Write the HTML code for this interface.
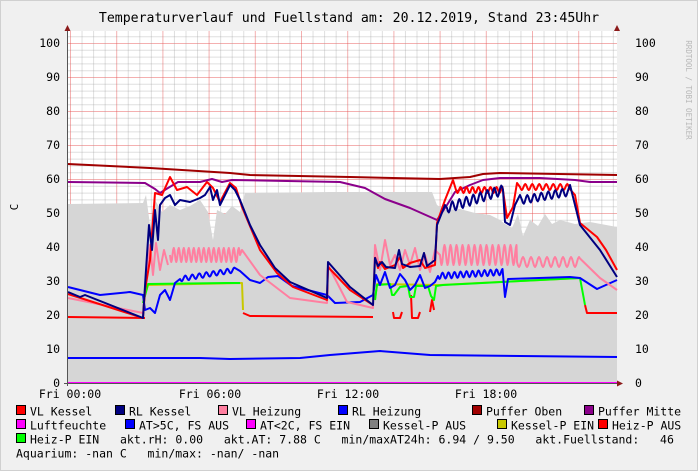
<!DOCTYPE html>
<html><head><meta charset="utf-8"><style>
html,body{margin:0;padding:0;background:#f0f0f0;}
svg{display:block;}
text{font-family:"DejaVu Sans Mono","Liberation Mono",monospace;fill:#000;white-space:pre;}
</style></head><body>
<svg id="g" width="698" height="471" xmlns="http://www.w3.org/2000/svg">
<rect x="0" y="0" width="698" height="471" fill="#f0f0f0"/>
<rect x="0.5" y="0.5" width="697" height="470" fill="none" stroke="#d0d0d0"/>
<rect x="68" y="31" width="549" height="352" fill="#fff"/>
<g id="grid"></g>
<g id="data"></g>
<text x="349" y="22" font-size="13.2" text-anchor="middle">Temperaturverlauf und Fuellstand am: 20.12.2019, Stand 23:45Uhr</text>
<text transform="translate(18,207) rotate(-90)" font-size="11" text-anchor="middle">C</text>
<text transform="translate(686,90) rotate(90)" font-size="7.5" text-anchor="middle" style="fill:#b8b8b8">RRDTOOL / TOBI OETIKER</text>
<g id="labels" font-size="11.5"></g>
<g id="legend" font-size="11.5"></g>
</svg>
<script>
const NS="http://www.w3.org/2000/svg";
function el(p,t,a,txt){const e=document.createElementNS(NS,t);for(const k in a)e.setAttribute(k,a[k]);if(txt!==undefined)e.textContent=txt;document.getElementById(p).appendChild(e);return e;}
for(let v=0;v<=104;v+=2){const y=383-v*3.4;if(y<31)break;const maj=v%10==0;
 el("grid","line",{x1:68,x2:617,y1:y+0.5,y2:y+0.5,stroke:maj?"rgba(230,80,80,0.45)":"rgba(150,150,150,0.3)","stroke-width":1});}
for(let k=0;k<48;k++){const x=70+k*11.55;if(x>617)break;const maj=k%4==0;
 el("grid","line",{x1:x+0.5,x2:x+0.5,y1:31,y2:383,stroke:maj?"rgba(230,80,80,0.45)":"rgba(150,150,150,0.3)","stroke-width":1});}
for(let v=0;v<=100;v+=10){const y=383-v*3.4+4;
 el("labels","text",{x:60,y:y,"text-anchor":"end"},String(v));
 el("labels","text",{x:635,y:y},String(v));}
[["Fri 00:00",70],["Fri 06:00",210],["Fri 12:00",348],["Fri 18:00",486]].forEach(a=>el("labels","text",{x:a[1],y:398,"text-anchor":"middle"},a[0]));
function W(x0,x1,y0,y1,amp,per,ph){const r=[];for(let x=x0;x<=x1;x+=per/8){const t=(x-x0)/(x1-x0||1);r.push([x,y0+(y1-y0)*t+amp*Math.sin((x-x0)/per*2*Math.PI+(ph||0))]);}return r;}
function P(...parts){let pts=[];parts.forEach(p=>{if(typeof p[0]==="number")pts.push(p);else pts=pts.concat(p);});return pts.map(p=>p[0].toFixed(1)+","+p[1].toFixed(1)).join(" ");}
function line(pts,c,w){el("data","polyline",{points:pts,fill:"none",stroke:c,"stroke-width":w||2,"stroke-linejoin":"round"});}
const gt=[[68,204],[143,203],[146,195],[150,225],[155,200],[162,212],[170,205],[180,210],[190,206],[200,200],[208,212],[213,240],[217,210],[225,214],[232,206],[240,212],[245,193],[330,192],[432,192],[437,205],[445,210],[460,209],[475,213],[490,215],[500,220],[505,224],[512,228],[518,214],[523,236],[530,220],[538,226],[545,214],[552,224],[560,220],[575,224],[590,222],[617,227]];
el("data","polygon",{points:P(gt,[617,383],[68,383]),fill:"#d6d6d6"});
line(P([68,164],[150,168],[230,173],[250,175],[350,177],[440,179],[470,177],[483,174],[500,173],[617,175]),"#a00000");
line(P([68,182],[145,183],[155,189],[160,193],[168,188],[178,182],[200,182],[212,179],[222,182],[232,180],[340,182],[365,188],[385,199],[410,208],[437,220],[447,205],[455,192],[470,185],[483,180],[500,178],[540,178],[575,180],[590,182],[617,182]),"#8b008b");
line(P([68,358],[200,358],[230,359],[300,358],[330,355],[380,351],[430,355],[617,357]),"#0000ff");
line(P([68,383],[617,383]),"#ff00ff",2);
line(P([68,317],[145,318]),"#ff0000");
line(P([243,313],[250,316],[373,317]),"#ff0000");
line(P([393,312],[394,318],[400,318],[402,312]),"#ff0000");
line(P([411,295],[412,318],[418,318],[420,312]),"#ff0000");
line(P([430,312],[432,300],[434,310]),"#ff0000");
line(P([585,305],[587,313],[617,313]),"#ff0000");
line(P([143,303],[148,285],[242,283],[243,310]),"#c8c800");
line(P([143,303],[148,284],[227,283],[240,283]),"#00ff00");
line(P([375,300],[377,284],[440,285],[580,278]),"#c8c800");
line(P([375,300],[377,285],[390,284],[392,295],[394,295],[400,287],[408,286],[410,297],[414,297],[416,286],[428,286],[431,296],[434,300],[436,286],[443,285],[580,278],[585,305]),"#00ff00");
line(P([68,287],[100,295],[130,292],[143,295],[145,310],[150,308],[155,313],[160,295],[165,290],[170,300],[175,283],W(180,235,279,270,2.5,7),[240,271],[250,280],[260,283],[268,277],[278,276],[292,286],[327,295],[335,303],[360,302],[373,295],[376,275],[380,285],[385,272],[390,288],[395,285],[400,274],[405,280],[410,290],[415,285],[420,275],[425,288],[430,286],[435,282],W(438,503,276,272,3,6),[505,297],[508,279],[570,277],[580,278],[597,289],[617,280]),"#0000ff");
line(P([68,298],[143,313],[146,280],[150,245],[153,275],[156,243],[160,270],[164,250],[168,265]),"#ff7fa0");
line(P(W(170,240,255,255,7,5),[242,250],[260,275],[290,298],[327,303],[328,265],[347,302],[373,308],[375,245],[380,270],[385,240],[390,265],[395,255],[400,270],[405,250],[410,265],[415,248],[420,270],[425,255],[430,272],[435,250],W(440,517,255,255,10,6),W(517,580,262,262,5,8),[600,278],[617,290]),"#ff7fa0");
line(P([68,294],[143,318],[145,290],[150,260],[155,193],[162,195],[170,177],[177,190],[187,187],[197,195],[207,182],[213,188],[220,202],[230,183],[236,188],[242,207],[260,250],[277,273],[293,287],[327,300],[328,267],[350,290],[373,305]),"#ff0000");
line(P([375,257],[378,268],[380,262],[385,269],[395,265],[400,257],[403,268],[410,263],[420,260],[425,268],[435,265],[437,223],[445,200],[453,180],W(456,503,190,190,3,6),[507,218],[513,207],[517,183],W(520,570,187,187,3,7),[575,195],[580,223],[597,237],[606,250],[617,270]),"#ff0000");
line(P([68,292],[80,297],[85,295],[143,318],[146,270],[149,225],[152,250],[155,210],[158,240],[160,205],[165,198],[170,195],[175,205],[180,200],[190,202],[200,198],[205,195],[210,187],[213,200],[217,190],[220,205],[225,195],[230,185],[235,190],[240,200],[250,225],[260,245],[275,268],[290,282],[320,295],[327,298],[328,262],[350,287],[373,305],[375,258],[378,266],[382,262],[386,267],[395,268],[399,250],[402,264],[410,267],[420,266],[424,253],[427,266],[435,260],[437,225],[445,205],W(447,503,208,190,5,7),[505,222],[510,225],[515,205],[520,195],W(522,568,200,192,4,7),[570,185],[580,225],[600,250],[617,277]),"#000080");
el("data","line",{x1:67.5,x2:67.5,y1:28,y2:386,stroke:"#555","stroke-width":1});
el("data","line",{x1:64,x2:620,y1:383.5,y2:383.5,stroke:"#555","stroke-width":1});
el("data","polygon",{points:"64.5,31 70.5,31 67.5,25",fill:"#8b1a1a"});
el("data","polygon",{points:"617,380.5 617,386.5 623,383.5",fill:"#8b1a1a"});
el("data","polygon",{points:"614,31 620,31 617,25",fill:"#8b1a1a"});
const rows=[
[[16,"#ff0000","VL Kessel"],[115,"#000080","RL Kessel"],[218,"#ff7fa0","VL Heizung"],[338,"#0000ff","RL Heizung"],[472,"#a00000","Puffer Oben"],[584,"#8b008b","Puffer Mitte"]],
[[16,"#ff00ff","Luftfeuchte"],[125,"#0000ff","AT>5C, FS AUS"],[246,"#ff00ff","AT<2C, FS EIN"],[369,"#808080","Kessel-P AUS"],[497,"#c8c800","Kessel-P EIN"],[598,"#ff0000","Heiz-P AUS"]],
[[16,"#00ff00","Heiz-P EIN"]]];
rows.forEach((r,i)=>{const y=414+i*14;r.forEach(a=>{
 el("legend","rect",{x:a[0]+0.5,y:y-8.5,width:9,height:9,fill:a[1],stroke:"#000","stroke-width":1});
 el("legend","text",{x:a[0]+14,y:y+1.5},a[2]);});});
el("legend","text",{x:120,y:443.5},"akt.rH: 0.00   akt.AT: 7.88 C   min/maxAT24h: 6.94 / 9.50   akt.Fuellstand:   46");
el("legend","text",{x:16,y:457.5},"Aquarium: -nan C   min/max: -nan/ -nan");
</script>
</body></html>
